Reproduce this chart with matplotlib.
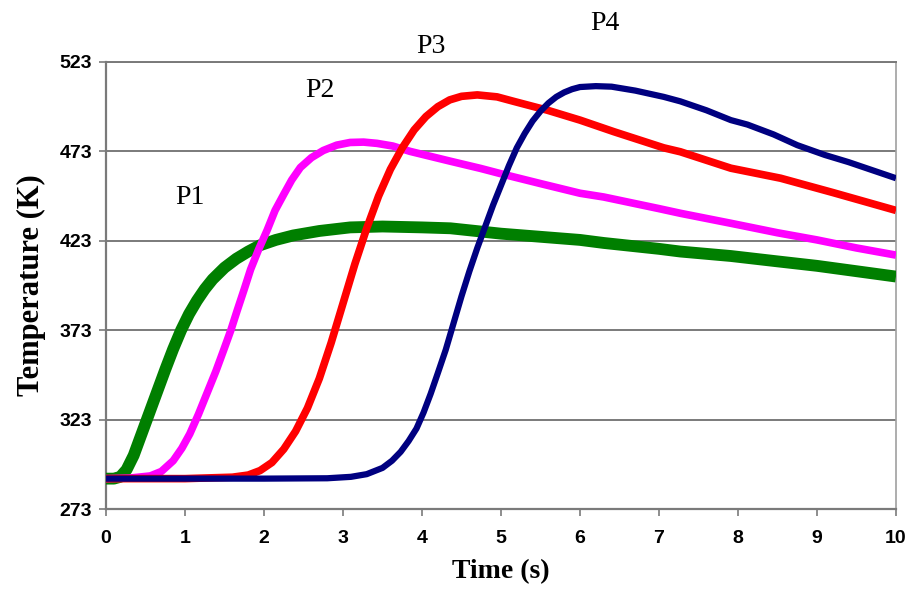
import numpy as np
import matplotlib.pyplot as plt

# data: time (s) vs temperature (K)
t_p1 = [0, 0.1, 0.18, 0.26, 0.35, 0.45, 0.55, 0.65, 0.75, 0.85, 0.95, 1.05, 1.15, 1.25, 1.35, 1.5, 1.65, 1.8,
        1.95, 2.15, 2.37, 2.7, 3.09, 3.5, 4.0, 4.36, 5.0, 6.0, 6.3, 7.0, 7.27, 7.91, 8.5, 9.0, 9.5, 10.0]
T_p1 = [290, 290, 291, 295, 303, 315, 327, 339, 351, 362.5, 373, 382, 389.5, 396, 401.5, 408, 413, 417,
        420.5, 423.5, 426, 428.5, 430.5, 431, 430.5, 430, 427, 423.5, 421.8, 418.5, 417, 414.5, 411.5, 409, 406, 403]

t_p2 = [0, 0.3, 0.56, 0.7, 0.85, 0.96, 1.06, 1.17, 1.28, 1.39, 1.49, 1.58, 1.66, 1.75, 1.83, 1.93, 2.04, 2.14,
        2.25, 2.35, 2.46, 2.6, 2.75, 2.92, 3.09, 3.26, 3.43, 3.63, 3.85, 4.36, 4.74, 5.0, 5.5, 6.0, 6.3, 7.0,
        7.27, 7.91, 8.5, 9.0, 9.5, 10.0]
T_p2 = [290, 290.3, 291.5, 294, 300, 307, 315, 326, 338, 350, 362, 373, 384, 396, 407, 418, 429, 440,
        449, 457, 464, 469.5, 473.5, 476.5, 478, 478.2, 477.5, 476, 473, 467.5, 463.5, 460.5, 455, 449.6, 447.5, 441,
        438.4, 432.8, 427.5, 423.5, 419, 415]

t_p3 = [0, 1.0, 1.6, 1.8, 1.95, 2.1, 2.25, 2.4, 2.55, 2.7, 2.85, 3.0, 3.15, 3.3, 3.45, 3.6, 3.75, 3.9, 4.05,
        4.2, 4.35, 4.5, 4.7, 4.95, 5.16, 5.59, 6.0, 6.43, 7.06, 7.27, 7.91, 8.54, 9.2, 10.0]
T_p3 = [290, 290, 290.8, 292, 294.5, 299, 306.5, 316.5, 329.5, 346, 366, 388, 410, 430, 448, 463, 475, 485, 492.5,
        498, 501.8, 503.8, 504.6, 503.5, 501, 496, 490.5, 484, 475, 472.8, 463.6, 458, 450, 440]

t_p4 = [0, 1, 2, 2.8, 3.1, 3.3, 3.5, 3.62, 3.73, 3.83, 3.93, 4.02, 4.11, 4.2, 4.3, 4.4, 4.5, 4.6, 4.7, 4.8, 4.9,
        5.0, 5.1, 5.2, 5.3, 5.4, 5.5, 5.6, 5.7, 5.8, 5.9, 6.0, 6.2, 6.4, 6.7, 7.06, 7.27, 7.6, 7.91, 8.12,
        8.45, 8.75, 9.1, 9.4, 9.7, 10]
T_p4 = [290, 290, 290, 290.2, 291, 292.5, 296, 300, 305, 311, 318, 327, 337.5, 349, 362, 377, 392, 406, 419, 431, 443,
        454, 465, 475, 483, 490, 495.5, 500, 503.5, 506, 507.8, 509, 509.5, 509.2, 507, 503.5, 501, 496, 490.5, 488,
        482.5, 476.5, 471, 467, 462.5, 458]

x_ticks = list(range(0, 11))
y_ticks = [273, 323, 373, 423, 473, 523]

fig = plt.figure(figsize=(9.11, 5.95), dpi=100)
ax = fig.add_axes([0.1164, 0.1445, 0.8671, 0.7513])

grid_col = '#7a7a7a'
for yv in y_ticks[1:]:
    ax.axhline(yv, color=grid_col, lw=1.4, zorder=1)

kw = dict(solid_capstyle='butt', solid_joinstyle='round', zorder=3)
ax.plot(t_p1, T_p1, color='#007f00', lw=8.5, **kw)
ax.plot(t_p2, T_p2, color='#ff00ff', lw=5.5, **kw)
ax.plot(t_p3, T_p3, color='#ff0000', lw=5.5, **kw)
ax.plot(t_p4, T_p4, color='#000080', lw=4.5, **kw)

serif = ['Liberation Serif', 'DejaVu Serif']
ax.text(1.06, 447.5, 'P1', fontsize=20, family=serif, ha='center', va='center')
ax.text(2.71, 507.3, 'P2', fontsize=20, family=serif, ha='center', va='center')
ax.text(4.11, 531.4, 'P3', fontsize=20, family=serif, ha='center', va='center', clip_on=False)
ax.text(6.31, 544.8, 'P4', fontsize=20, family=serif, ha='center', va='center', clip_on=False)

ax.set_xlim(0, 10)
ax.set_ylim(273, 523)
ax.set_xticks(x_ticks)
ax.set_yticks(y_ticks)
sans = ['Liberation Sans', 'DejaVu Sans']
for lab in ax.get_xticklabels() + ax.get_yticklabels():
    lab.set_family(sans)
    lab.set_fontweight('bold')
    lab.set_fontsize(14)
ax.tick_params(axis='both', direction='out', length=5, width=1.2, color=grid_col)
ax.tick_params(axis='x', pad=10)
ax.tick_params(axis='y', pad=5)

for side in ['left', 'bottom']:
    ax.spines[side].set_color(grid_col)
    ax.spines[side].set_linewidth(1.6)
ax.spines['right'].set_color('#a0a0a0')
ax.spines['right'].set_linewidth(1.2)
ax.spines['top'].set_color(grid_col)
ax.spines['top'].set_linewidth(1.4)

ax.set_xlabel('Time (s)', fontsize=20, fontweight='bold', family=serif, labelpad=9)
ax.set_ylabel('Temperature (K)', fontsize=22, fontweight='bold', family=serif, labelpad=10)

fig.savefig('out.png', dpi=100)
